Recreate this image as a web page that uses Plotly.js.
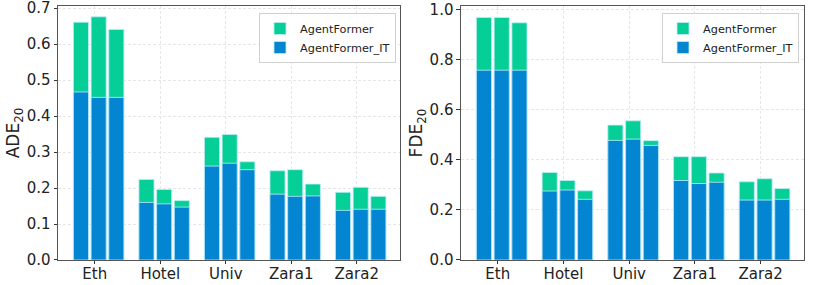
<!DOCTYPE html>
<html>
<head>
<meta charset="utf-8">
<script src="https://cdn.plot.ly/plotly-3.0.1.min.js"></script>
<style>html,body{margin:0;padding:0;background:#fff;}#chart{width:814px;height:285px;}</style>
</head>
<body>
<div id="chart"></div>
<script>
// Categories (datasets)
const categories = ['Eth', 'Hotel', 'Univ', 'Zara1', 'Zara2'];
const seriesNames = ['AgentFormer', 'AgentFormer_IT'];

// ADE_20 values: three bars per dataset
const ade_agentformer    = [[0.661, 0.676, 0.641], [0.224, 0.196, 0.165], [0.341, 0.349, 0.273], [0.248, 0.251, 0.211], [0.188, 0.202, 0.177]];
const ade_agentformer_it = [[0.467, 0.452, 0.452], [0.160, 0.156, 0.147], [0.261, 0.269, 0.251], [0.183, 0.177, 0.178], [0.138, 0.141, 0.141]];

// FDE_20 values: three bars per dataset
const fde_agentformer    = [[0.967, 0.967, 0.946], [0.349, 0.317, 0.276], [0.538, 0.555, 0.476], [0.412, 0.412, 0.347], [0.312, 0.324, 0.285]];
const fde_agentformer_it = [[0.757, 0.757, 0.757], [0.275, 0.279, 0.242], [0.477, 0.482, 0.457], [0.317, 0.305, 0.310], [0.239, 0.239, 0.242]];

// y tick values
const adeTicks = [0.0, 0.1, 0.2, 0.3, 0.4, 0.5, 0.6, 0.7];
const fdeTicks = [0.0, 0.2, 0.4, 0.6, 0.8, 1.0];

// layout constants
const barOffsets = [-0.21, 0.06, 0.33];
const barWidth = 0.23;
const green = '#05cf96';
const blue = '#0485d2';

function xs() {
  return categories.flatMap((c, i) => barOffsets.map(o => i + o));
}
function bar(vals, name, color, xa, ya, legend) {
  return {
    type: 'bar', name: name, x: xs(), y: vals.flat(), width: barWidth,
    xaxis: xa, yaxis: ya, legend: legend,
    marker: {color: color, line: {color: 'rgba(190,235,250,0.8)', width: 1}},
    hoverinfo: 'y'
  };
}

const data = [
  bar(ade_agentformer, seriesNames[0], green, 'x', 'y', 'legend'),
  bar(ade_agentformer_it, seriesNames[1], blue, 'x', 'y', 'legend'),
  bar(fde_agentformer, seriesNames[0], green, 'x2', 'y2', 'legend2'),
  bar(fde_agentformer_it, seriesNames[1], blue, 'x2', 'y2', 'legend2')
];

const xCommon = {
  range: [-0.56, 4.66], tickmode: 'array', tickvals: categories.map((c, i) => i), ticktext: categories,
  ticks: 'outside', ticklen: 3.5, tickcolor: '#333', tickwidth: 1, ticklabelstandoff: -3,
  ticklabeloverflow: 'allow',
  showgrid: true, gridcolor: '#e6e6e6', griddash: '3px,2px', gridwidth: 1,
  showline: true, mirror: true, linecolor: '#555', linewidth: 1,
  zeroline: false, tickfont: {size: 15, color: '#222'}, fixedrange: true
};
const yCommon = {
  tickmode: 'array', ticklabeloverflow: 'allow',
  ticks: 'outside', ticklen: 3.5, tickcolor: '#333', tickwidth: 1,
  showgrid: true, gridcolor: '#e6e6e6', griddash: '3px,2px', gridwidth: 1,
  showline: true, mirror: true, linecolor: '#555', linewidth: 1,
  zeroline: false, tickfont: {size: 15, color: '#222'}, fixedrange: true
};
const legCommon = {
  xanchor: 'right', yanchor: 'top', bgcolor: 'rgba(255,255,255,0.9)',
  bordercolor: '#d0d0d0', borderwidth: 1, font: {size: 11.3, color: '#222'},
  tracegroupgap: 0, itemwidth: 30
};

const layout = {
  width: 814, height: 285,
  margin: {l: 0, r: 0, t: 4, b: 0},
  paper_bgcolor: '#fff', plot_bgcolor: '#fff',
  font: {family: 'DejaVu Sans, sans-serif', color: '#222'},
  barmode: 'overlay',
  showlegend: true,
  xaxis: Object.assign({}, xCommon, {domain: [0.0713, 0.4914], anchor: 'y'}),
  yaxis: Object.assign({}, yCommon, {domain: [0.089, 0.9929], anchor: 'x', range: [0, 0.706],
    tickvals: adeTicks, ticktext: adeTicks.map(v => v.toFixed(1)),
    title: {text: 'ADE<sub>20</sub>', font: {size: 17, color: '#222'}, standoff: 2}}),
  xaxis2: Object.assign({}, xCommon, {domain: [0.5663, 0.9877], anchor: 'y2'}),
  yaxis2: Object.assign({}, yCommon, {domain: [0.089, 0.9929], anchor: 'x2', range: [0, 1.013],
    tickvals: fdeTicks, ticktext: fdeTicks.map(v => v.toFixed(1)),
    title: {text: 'FDE<sub>20</sub>', font: {size: 17, color: '#222'}, standoff: 2}}),
  legend: Object.assign({}, legCommon, {x: 0.4865, y: 0.968}),
  legend2: Object.assign({}, legCommon, {x: 0.9816, y: 0.968})
};

Plotly.newPlot('chart', data, layout, {displayModeBar: false, staticPlot: true});
</script>
</body>
</html>
